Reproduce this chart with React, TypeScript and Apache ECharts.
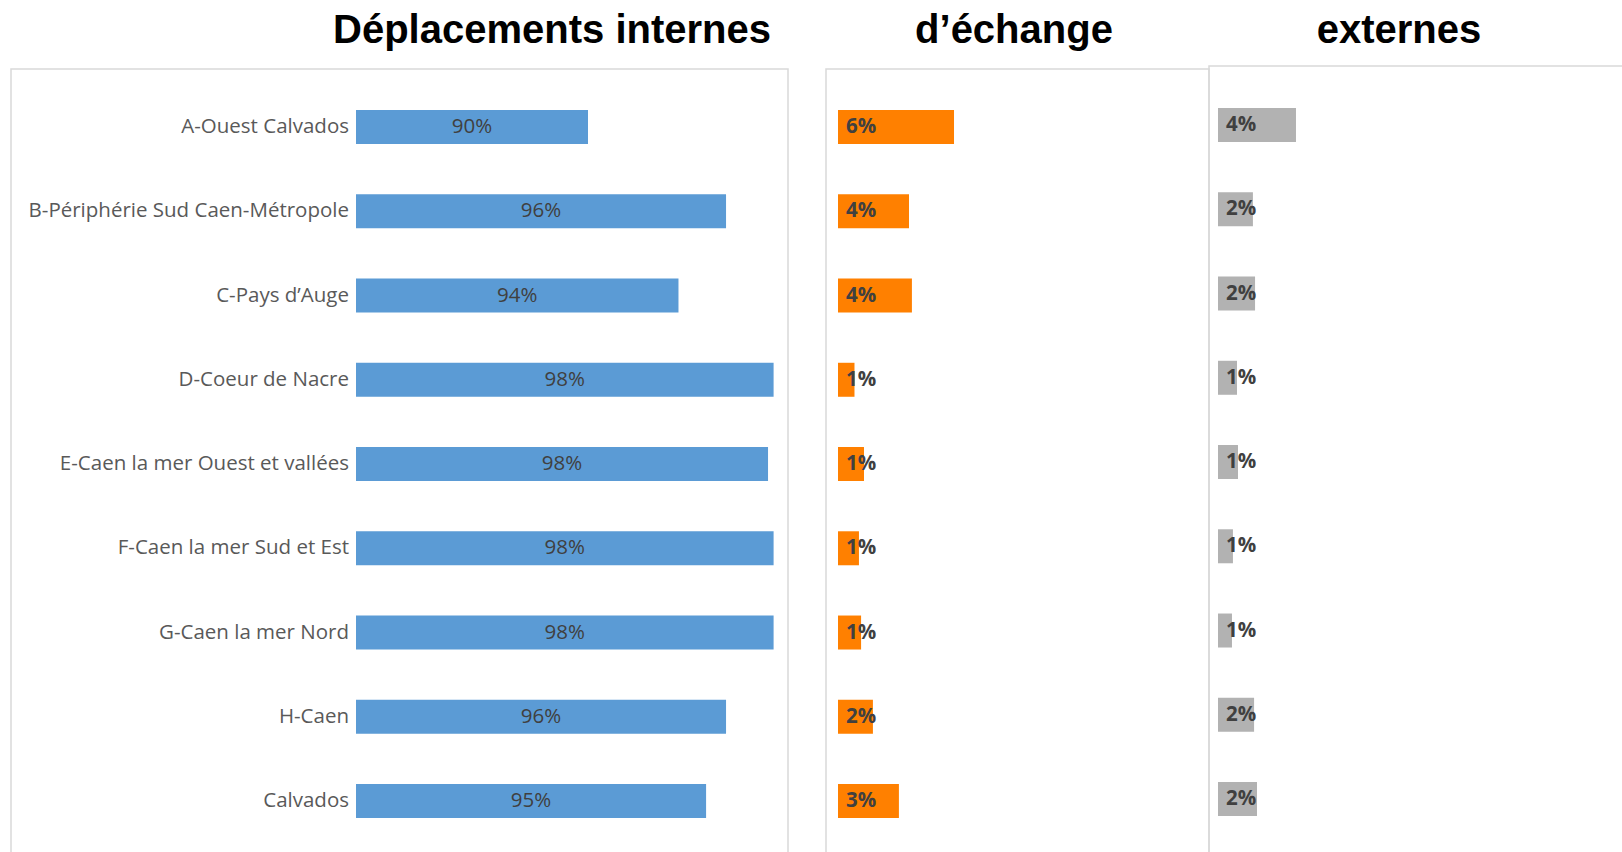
import React, { useEffect, useRef } from "react";
import * as echarts from "echarts";

const categories = [
  "A-Ouest Calvados",
  "B-Périphérie Sud Caen-Métropole",
  "C-Pays d’Auge",
  "D-Coeur de Nacre",
  "E-Caen la mer Ouest et vallées",
  "F-Caen la mer Sud et Est",
  "G-Caen la mer Nord",
  "H-Caen",
  "Calvados",
];

const internes = [90.0, 95.95, 93.9, 98.0, 97.76, 98.0, 98.0, 95.95, 95.09];
const echange = [5.98, 3.66, 3.81, 0.85, 1.34, 1.08, 1.19, 1.8, 3.14];
const externes = [4.02, 1.8, 1.91, 0.98, 1.03, 0.77, 0.72, 1.86, 2.01];

const titles = ["Déplacements internes", "d’échange", "externes"];

const FONT = "'Open Sans', sans-serif";

export default function App() {
  const ref = useRef<HTMLDivElement>(null);

  useEffect(() => {
    if (!ref.current) return;
    const chart = echarts.init(ref.current, null, { renderer: "svg" });
    const fmt = (p: any) => Math.round(p.value) + "%";
    const boxStyle = { fill: "none", stroke: "#D9D9D9", lineWidth: 1.5 };
    chart.setOption({
      animation: false,
      backgroundColor: "#ffffff",
      grid: [
        { left: 356, width: 464, top: 84.9, height: 758.25 },
        { left: 838, width: 349.2, top: 84.9, height: 758.25 },
        { left: 1218, width: 349.2, top: 82.9, height: 758.25 },
      ],
      xAxis: [
        { type: "value", gridIndex: 0, min: 80, max: 100, show: false },
        { type: "value", gridIndex: 1, min: 0, max: 18, show: false },
        { type: "value", gridIndex: 2, min: 0, max: 18, show: false },
      ],
      yAxis: [0, 1, 2].map((i) => ({
        type: "category",
        gridIndex: i,
        data: categories,
        inverse: true,
        axisLine: { show: false },
        axisTick: { show: false },
        splitLine: { show: false },
        axisLabel: {
          show: i === 0,
          margin: 7,
          fontSize: 20.5,
          color: "#595959",
          fontFamily: FONT,
          verticalAlign: "bottom",
          lineHeight: 4,
        },
      })),
      series: [
        {
          type: "bar",
          xAxisIndex: 0,
          yAxisIndex: 0,
          data: internes,
          barWidth: 34,
          itemStyle: { color: "#5B9BD5" },
          label: {
            show: true,
            position: "inside",
            offset: [0, -2],
            formatter: fmt,
            fontSize: 20.5,
            color: "#404040",
            fontFamily: FONT,
          },
        },
        {
          type: "bar",
          xAxisIndex: 1,
          yAxisIndex: 1,
          data: echange,
          barWidth: 34,
          itemStyle: { color: "#FF8000" },
          label: {
            show: true,
            position: "insideLeft",
            distance: 8,
            offset: [0, -2],
            formatter: fmt,
            fontSize: 20.5,
            fontWeight: "bold",
            color: "#404040",
            fontFamily: FONT,
          },
        },
        {
          type: "bar",
          xAxisIndex: 2,
          yAxisIndex: 2,
          data: externes,
          barWidth: 34,
          itemStyle: { color: "#B2B2B2" },
          label: {
            show: true,
            position: "insideLeft",
            distance: 8,
            offset: [0, -2],
            formatter: fmt,
            fontSize: 20.5,
            fontWeight: "bold",
            color: "#404040",
            fontFamily: FONT,
          },
        },
      ],
      graphic: [
        { type: "rect", shape: { x: 11, y: 69, width: 777, height: 820 }, style: boxStyle, silent: true },
        { type: "rect", shape: { x: 826, y: 69, width: 383, height: 820 }, style: boxStyle, silent: true },
        { type: "rect", shape: { x: 1209, y: 66, width: 500, height: 820 }, style: boxStyle, silent: true },
        ...[552, 1014, 1399].map((cx, i) => ({
          type: "text",
          x: cx,
          y: 29,
          style: {
            text: titles[i],
            fontSize: 40,
            fontWeight: "bold",
            fontFamily: "'Liberation Sans', Arial, sans-serif",
            fill: "#000000",
            align: "center",
            verticalAlign: "middle",
          },
        })),
      ],
    });
    return () => chart.dispose();
  }, []);

  return (
    <div
      ref={ref}
      style={{ position: "absolute", left: 0, top: 0, width: 1622, height: 852 }}
    />
  );
}
